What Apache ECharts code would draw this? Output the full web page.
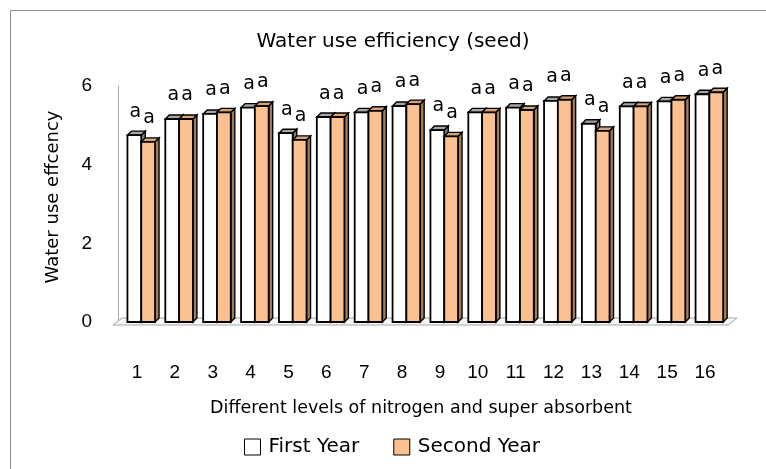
<!DOCTYPE html>
<html>
<head>
<meta charset="utf-8">
<script src="https://cdn.jsdelivr.net/npm/echarts@6/dist/echarts.min.js"></script>
<style>html,body{margin:0;padding:0;background:#fff;}#chart{width:766px;height:469px;}</style>
</head>
<body>
<div id="chart"></div>
<script>
// ---- data ----
const categories = ['1','2','3','4','5','6','7','8','9','10','11','12','13','14','15','16'];
const firstYear  = [4.75, 5.16, 5.29, 5.45, 4.80, 5.21, 5.33, 5.49, 4.88, 5.33, 5.45, 5.62, 5.04, 5.48, 5.61, 5.79];
const secondYear = [4.58, 5.16, 5.33, 5.49, 4.63, 5.21, 5.37, 5.54, 4.72, 5.33, 5.39, 5.65, 4.86, 5.48, 5.65, 5.84];
const firstLetters  = ['a','a','a','a','a','a','a','a','a','a','a','a','a','a','a','a'];
const secondLetters = ['a','a','a','a','a','a','a','a','a','a','a','a','a','a','a','a'];
const yTicks = [0, 2, 4, 6];
const seriesNames = ['First Year', 'Second Year'];

const chart = echarts.init(document.getElementById('chart'), null, {renderer: 'canvas'});

const DX = 4, DY = 4;
function barRenderer(offset, width, front, top, side) {
  return function (params, api) {
    const idx = api.value(0);
    const v = api.value(1);
    const pt = api.coord([idx, v]);
    const base = api.coord([idx, 0]);
    const x0 = pt[0] + offset, x1 = x0 + width, yt = pt[1], yb = base[1];
    const letter = params.seriesIndex === 1 ? firstLetters[params.dataIndex] : secondLetters[params.dataIndex];
    return {
      type: 'group',
      children: [
        {type: 'polygon', shape: {points: [[x1, yb], [x1 + DX, yb - DY], [x1 + DX, yt - DY], [x1, yt]]},
         style: {fill: side, stroke: '#000', lineWidth: 1.4}},
        {type: 'polygon', shape: {points: [[x0, yt], [x0 + DX, yt - DY], [x1 + DX, yt - DY], [x1, yt]]},
         style: {fill: top, stroke: '#000', lineWidth: 1.4}},
        {type: 'rect', shape: {x: x0, y: yt, width: width, height: yb - yt},
         style: {fill: front, stroke: '#000', lineWidth: 1.8}},
        {type: 'text', style: {text: letter, x: (x0 + x1) / 2 + 1, y: yt - 14,
          align: 'center', verticalAlign: 'bottom', fill: '#000',
          font: '19px "DejaVu Sans", sans-serif'}}
      ]
    };
  };
}

function floorRenderer(params, api) {
  const cs = params.coordSys;
  const L = cs.x, R = cs.x + cs.width, B = cs.y + cs.height;
  return {
    type: 'polygon',
    shape: {points: [[L - 5, B + 3], [R + 4, B + 3], [R + 13, B - 4], [L + 4, B - 4]]},
    style: {fill: '#F7F7F7', stroke: '#A6A6A6', lineWidth: 1},
    z2: 0
  };
}

const option = {
  backgroundColor: '#fff',
  animation: false,
  title: {
    text: 'Water use efficiency (seed)',
    left: 388, top: 27, textAlign: 'center',
    textStyle: {fontFamily: 'DejaVu Sans', fontSize: 20, fontWeight: 'normal', color: '#000'}
  },
  graphic: [
    {type: 'rect', left: 8, top: 8, shape: {x: 0.5, y: 0.5, width: 900, height: 900},
     style: {fill: 'none', stroke: '#8C8C8C', lineWidth: 1}, silent: true, z: -10},
    {type: 'text', x: 53, y: 197, rotation: Math.PI / 2,
     style: {text: 'Water use effcency', align: 'center', verticalAlign: 'middle',
             font: '18px "DejaVu Sans", sans-serif', fill: '#000'}}
  ],
  legend: {
    left: 239, top: 432,
    itemWidth: 16, itemHeight: 16, itemGap: 34,
    icon: 'rect',
    textStyle: {fontFamily: 'DejaVu Sans', fontSize: 20, color: '#000', padding: [0, 0, 0, 3]},
    data: [
      {name: seriesNames[0], itemStyle: {color: '#FFFFFF', borderColor: '#000', borderWidth: 1}},
      {name: seriesNames[1], itemStyle: {color: '#FAC090', borderColor: '#000', borderWidth: 1}}
    ]
  },
  grid: {left: 118, right: 42, top: 86, bottom: 147, containLabel: false},
  xAxis: {
    type: 'category',
    data: categories,
    axisLine: {show: false},
    axisTick: {show: false},
    axisLabel: {margin: 41, fontFamily: 'Liberation Sans', fontSize: 19, color: '#000'},
    name: 'Different levels of nitrogen and super absorbent',
    nameLocation: 'middle', nameGap: 77,
    nameTextStyle: {fontFamily: 'DejaVu Sans', fontSize: 17.5, color: '#000'}
  },
  yAxis: {
    type: 'value',
    min: 0, max: 6, interval: 2,
    axisLine: {show: true, lineStyle: {color: '#A6A6A6', width: 1}},
    axisTick: {show: false},
    splitLine: {show: false},
    axisLabel: {margin: 26, fontFamily: 'Liberation Sans', fontSize: 19, color: '#000',
      formatter: function (v) { return yTicks.indexOf(v) >= 0 ? String(v) : ''; }}
  },
  series: [
    {type: 'custom', name: 'floor', data: [[0, 0]], renderItem: floorRenderer, clip: false, silent: true, z: 1},
    {type: 'custom', name: seriesNames[0], clip: false, z: 2,
     itemStyle: {color: '#FFFFFF', borderColor: '#000'},
     data: firstYear.map((v, i) => [i, v]),
     encode: {x: 0, y: 1},
     renderItem: barRenderer(-9.5, 13.8, '#FFFFFF', '#A6A6A6', '#7F7F7F')},
    {type: 'custom', name: seriesNames[1], clip: false, z: 2,
     itemStyle: {color: '#FAC090', borderColor: '#000'},
     data: secondYear.map((v, i) => [i, v]),
     encode: {x: 0, y: 1},
     renderItem: barRenderer(4.3, 13.8, '#FAC090', '#D9A273', '#A27C58')}
  ]
};
chart.setOption(option);
</script>
</body>
</html>
